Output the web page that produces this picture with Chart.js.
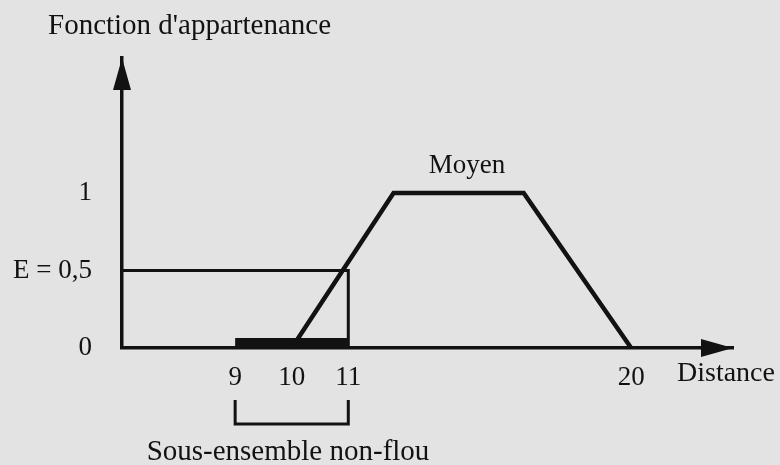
<!DOCTYPE html>
<html>
<head>
<meta charset="utf-8">
<script src="https://cdn.jsdelivr.net/npm/chart.js@4/dist/chart.umd.min.js"></script>
<style>
  html, body { margin: 0; padding: 0; background: #e3e3e3; }
  #wrap { width: 780px; height: 465px; }
</style>
</head>
<body>
<div id="wrap"><canvas id="chartFlou" width="780" height="465"></canvas></div>
<script>
// distance ticks (schematic axis: drawn position -> printed label)
var distTicks = [9, 10, 11, 16];
var distLabels = ['9', '10', '11', '20'];
// membership ticks
var memberTicks = [0, 0.5, 1];
var memberLabels = ['0', 'E = 0,5', '1'];
// "Moyen" trapezoid
var moyenX = [10, 11.8, 14.1, 16];
var moyenY = [0, 1, 1, 0];
// alpha cut
var eLevel = 0.5;
var cutX = 11;
// crisp set (sous-ensemble non-flou)
var crispSet = [9, 11];

var ink = '#121212';
var serif = '"Liberation Serif", "DejaVu Serif", serif';

var moyenData = moyenX.map(function (x, i) { return {x: x, y: moyenY[i]}; });
var cutData = [{x: 7, y: eLevel}, {x: cutX, y: eLevel}, {x: cutX, y: 0}];

var decor = {
    id: 'decor',
    afterDatasetsDraw: function (chart) {
        var ctx = chart.ctx;
        var a = chart.chartArea;
        var xs = chart.scales.x;
        var x0 = xs.getPixelForValue(crispSet[0]);
        var x1 = xs.getPixelForValue(crispSet[1]);
        ctx.save();
        ctx.fillStyle = ink;
        ctx.strokeStyle = ink;

        // crisp set bar on the axis
        ctx.fillRect(x0, a.bottom - 10, x1 - x0, 10);

        // arrow heads
        ctx.beginPath();
        ctx.moveTo(a.right, a.bottom);
        ctx.lineTo(a.right - 32, a.bottom - 9);
        ctx.lineTo(a.right - 32, a.bottom + 9);
        ctx.closePath();
        ctx.fill();
        ctx.beginPath();
        ctx.moveTo(a.left, a.top);
        ctx.lineTo(a.left - 9, a.top + 32);
        ctx.lineTo(a.left + 9, a.top + 32);
        ctx.closePath();
        ctx.fill();

        // bracket under the crisp set
        ctx.lineWidth = 3;
        ctx.beginPath();
        ctx.moveTo(x0, a.bottom + 52);
        ctx.lineTo(x0, a.bottom + 76);
        ctx.lineTo(x1, a.bottom + 76);
        ctx.lineTo(x1, a.bottom + 52);
        ctx.stroke();

        // texts
        ctx.textBaseline = 'middle';
        ctx.textAlign = 'left';
        ctx.font = '29px ' + serif;
        ctx.fillText("Fonction d'appartenance", 48, 26);
        ctx.font = '28px ' + serif;
        ctx.fillText('Distance', 677, 374);
        ctx.textAlign = 'center';
        ctx.font = '27px ' + serif;
        ctx.fillText('Moyen', 467, 166);
        ctx.font = '29px ' + serif;
        ctx.fillText('Sous-ensemble non-flou', 288, 452);
        ctx.restore();
    }
};

var ctx = document.getElementById('chartFlou').getContext('2d');
var chart = new Chart(ctx, {
    type: 'line',
    data: {
        datasets: [{
            label: 'Moyen',
            data: moyenData,
            borderColor: ink,
            borderWidth: 4.5,
            pointRadius: 0,
            tension: 0,
            clip: false
        }, {
            label: 'E',
            data: cutData,
            borderColor: ink,
            borderWidth: 3,
            pointRadius: 0,
            tension: 0,
            clip: false
        }]
    },
    options: {
        responsive: false,
        animation: false,
        layout: { padding: { top: 58, right: 47, left: 0, bottom: 0 } },
        plugins: { legend: { display: false }, tooltip: { enabled: false } },
        scales: {
            x: {
                type: 'linear',
                min: 7,
                max: 17.8,
                afterFit: function (s) { s.height = 117; },
                afterBuildTicks: function (s) { s.ticks = distTicks.map(function (v) { return {value: v}; }); },
                grid: { display: false, drawTicks: false },
                border: { display: true, color: ink, width: 3.5 },
                ticks: {
                    padding: 14,
                    color: ink,
                    font: { family: serif, size: 27 },
                    maxRotation: 0,
                    autoSkip: false,
                    callback: function (v) { return distLabels[distTicks.indexOf(v)]; }
                }
            },
            y: {
                type: 'linear',
                min: 0,
                max: 1.87,
                afterFit: function (s) { s.width = 122; },
                afterBuildTicks: function (s) { s.ticks = memberTicks.map(function (v) { return {value: v}; }); },
                grid: { display: false, drawTicks: false },
                border: { display: true, color: ink, width: 3.5 },
                ticks: {
                    padding: 30,
                    color: ink,
                    font: { family: serif, size: 27 },
                    autoSkip: false,
                    callback: function (v) { return memberLabels[memberTicks.indexOf(v)]; }
                }
            }
        }
    },
    plugins: [decor]
});
</script>
</body>
</html>
